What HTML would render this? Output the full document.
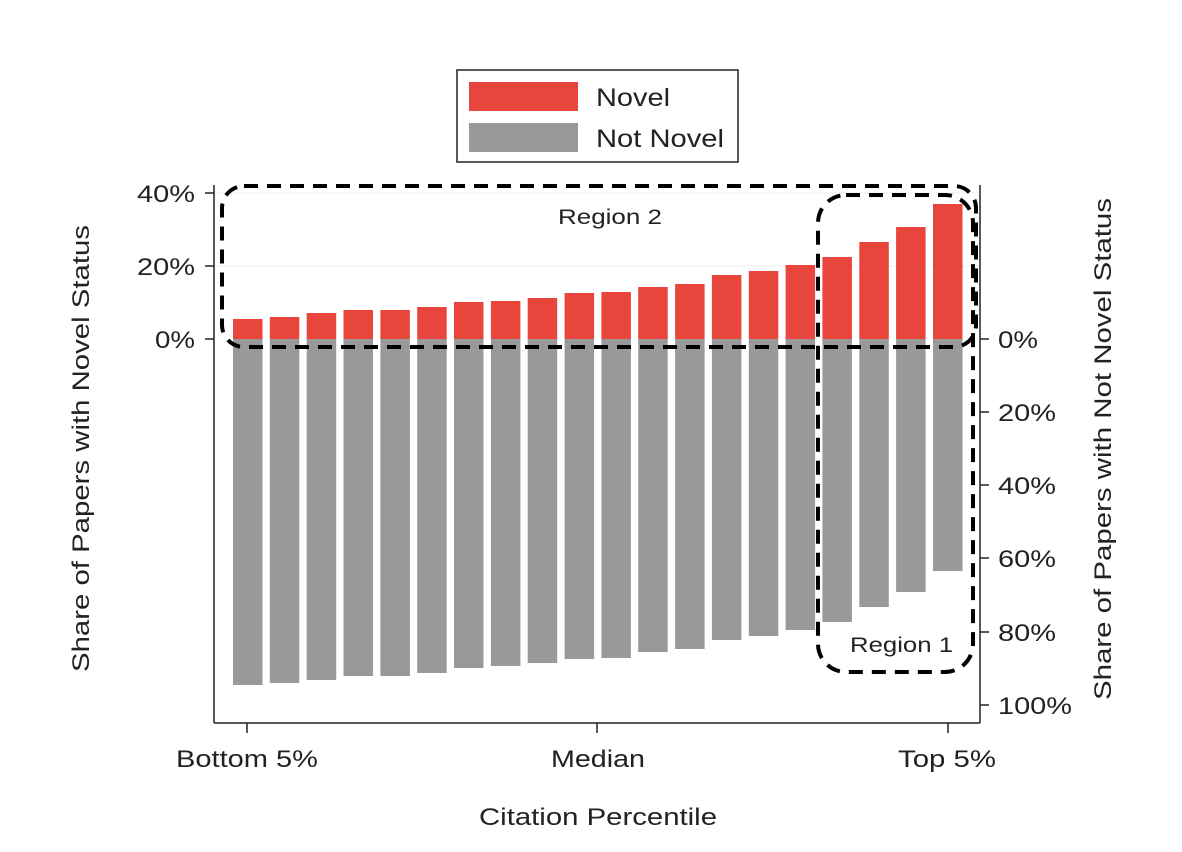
<!DOCTYPE html>
<html><head><style>body{margin:0;background:#fff}</style></head><body>
<svg width="1182" height="847" xmlns="http://www.w3.org/2000/svg" font-family="Liberation Sans, Arial, sans-serif" fill="#222">
<rect width="1182" height="847" fill="#fff"/>
<line x1="214" y1="193" x2="980" y2="193" stroke="#eaf0f0"/>
<line x1="214" y1="266" x2="980" y2="266" stroke="#eaf0f0"/>
<g fill="#e8453c">
<rect x="233.0" y="319" width="29.5" height="20"/>
<rect x="269.8" y="317" width="29.5" height="22"/>
<rect x="306.7" y="313" width="29.5" height="26"/>
<rect x="343.5" y="310" width="29.5" height="29"/>
<rect x="380.4" y="310" width="29.5" height="29"/>
<rect x="417.2" y="307" width="29.5" height="32"/>
<rect x="454.0" y="302" width="29.5" height="37"/>
<rect x="490.9" y="301" width="29.5" height="38"/>
<rect x="527.7" y="298" width="29.5" height="41"/>
<rect x="564.6" y="293" width="29.5" height="46"/>
<rect x="601.4" y="292" width="29.5" height="47"/>
<rect x="638.2" y="287" width="29.5" height="52"/>
<rect x="675.1" y="284" width="29.5" height="55"/>
<rect x="711.9" y="275" width="29.5" height="64"/>
<rect x="748.8" y="271" width="29.5" height="68"/>
<rect x="785.6" y="265" width="29.5" height="74"/>
<rect x="822.4" y="257" width="29.5" height="82"/>
<rect x="859.3" y="242" width="29.5" height="97"/>
<rect x="896.1" y="227" width="29.5" height="112"/>
<rect x="933.0" y="204" width="29.5" height="135"/>
</g>
<g fill="#999">
<rect x="233.0" y="339" width="29.5" height="346"/>
<rect x="269.8" y="339" width="29.5" height="344"/>
<rect x="306.7" y="339" width="29.5" height="341"/>
<rect x="343.5" y="339" width="29.5" height="337"/>
<rect x="380.4" y="339" width="29.5" height="337"/>
<rect x="417.2" y="339" width="29.5" height="334"/>
<rect x="454.0" y="339" width="29.5" height="329"/>
<rect x="490.9" y="339" width="29.5" height="327"/>
<rect x="527.7" y="339" width="29.5" height="324"/>
<rect x="564.6" y="339" width="29.5" height="320"/>
<rect x="601.4" y="339" width="29.5" height="319"/>
<rect x="638.2" y="339" width="29.5" height="313"/>
<rect x="675.1" y="339" width="29.5" height="310"/>
<rect x="711.9" y="339" width="29.5" height="301"/>
<rect x="748.8" y="339" width="29.5" height="297"/>
<rect x="785.6" y="339" width="29.5" height="291"/>
<rect x="822.4" y="339" width="29.5" height="283"/>
<rect x="859.3" y="339" width="29.5" height="268"/>
<rect x="896.1" y="339" width="29.5" height="253"/>
<rect x="933.0" y="339" width="29.5" height="232"/>
</g>
<g stroke="#222" stroke-width="1.5">
<line x1="214" y1="185" x2="214" y2="723"/>
<line x1="980" y1="185" x2="980" y2="723"/>
<line x1="214" y1="723" x2="980" y2="723"/>
<line x1="205" y1="193" x2="214" y2="193"/><line x1="205" y1="266" x2="214" y2="266"/><line x1="205" y1="339" x2="214" y2="339"/>
<line x1="980" y1="339" x2="989" y2="339"/><line x1="980" y1="412" x2="989" y2="412"/><line x1="980" y1="485" x2="989" y2="485"/><line x1="980" y1="558" x2="989" y2="558"/><line x1="980" y1="632" x2="989" y2="632"/><line x1="980" y1="705" x2="989" y2="705"/>
<line x1="247" y1="723" x2="247" y2="733"/><line x1="597" y1="723" x2="597" y2="733"/><line x1="948" y1="723" x2="948" y2="733"/>
</g>
<g font-size="24">
<text x="137" y="202" textLength="58" lengthAdjust="spacingAndGlyphs">40%</text>
<text x="137" y="275" textLength="58" lengthAdjust="spacingAndGlyphs">20%</text>
<text x="155" y="348" textLength="40" lengthAdjust="spacingAndGlyphs">0%</text>
<text x="998" y="348" textLength="40" lengthAdjust="spacingAndGlyphs">0%</text>
<text x="998" y="421" textLength="58" lengthAdjust="spacingAndGlyphs">20%</text>
<text x="998" y="494" textLength="58" lengthAdjust="spacingAndGlyphs">40%</text>
<text x="998" y="567" textLength="58" lengthAdjust="spacingAndGlyphs">60%</text>
<text x="998" y="641" textLength="58" lengthAdjust="spacingAndGlyphs">80%</text>
<text x="998" y="714" textLength="74" lengthAdjust="spacingAndGlyphs">100%</text>
<text x="176" y="767" textLength="142" lengthAdjust="spacingAndGlyphs">Bottom 5%</text>
<text x="551" y="767" textLength="94" lengthAdjust="spacingAndGlyphs">Median</text>
<text x="898" y="767" textLength="98" lengthAdjust="spacingAndGlyphs">Top 5%</text>
<text x="479" y="825" textLength="238" lengthAdjust="spacingAndGlyphs">Citation Percentile</text>
<text transform="translate(89,672) rotate(-90)" textLength="447" lengthAdjust="spacingAndGlyphs">Share of Papers with Novel Status</text>
<text transform="translate(1111,700) rotate(-90)" textLength="502" lengthAdjust="spacingAndGlyphs">Share of Papers with Not Novel Status</text>
<text x="558" y="224" font-size="21" textLength="104" lengthAdjust="spacingAndGlyphs">Region 2</text>
<text x="850" y="652" font-size="21" textLength="103" lengthAdjust="spacingAndGlyphs">Region 1</text>
</g>
<g fill="none" stroke="#000" stroke-width="4" stroke-dasharray="14,9">
<rect x="222" y="186" width="754" height="161" rx="22"/>
<rect x="818" y="195" width="155" height="477" rx="28"/>
</g>
<rect x="457" y="70" width="281" height="92" fill="#fff" stroke="#222" stroke-width="1.5"/>
<rect x="469" y="82" width="109" height="29" fill="#e8453c"/>
<rect x="469" y="123" width="109" height="29" fill="#999"/>
<text x="596" y="106" font-size="25" textLength="74" lengthAdjust="spacingAndGlyphs">Novel</text>
<text x="596" y="147" font-size="25" textLength="128" lengthAdjust="spacingAndGlyphs">Not Novel</text>
</svg>
</body></html>
